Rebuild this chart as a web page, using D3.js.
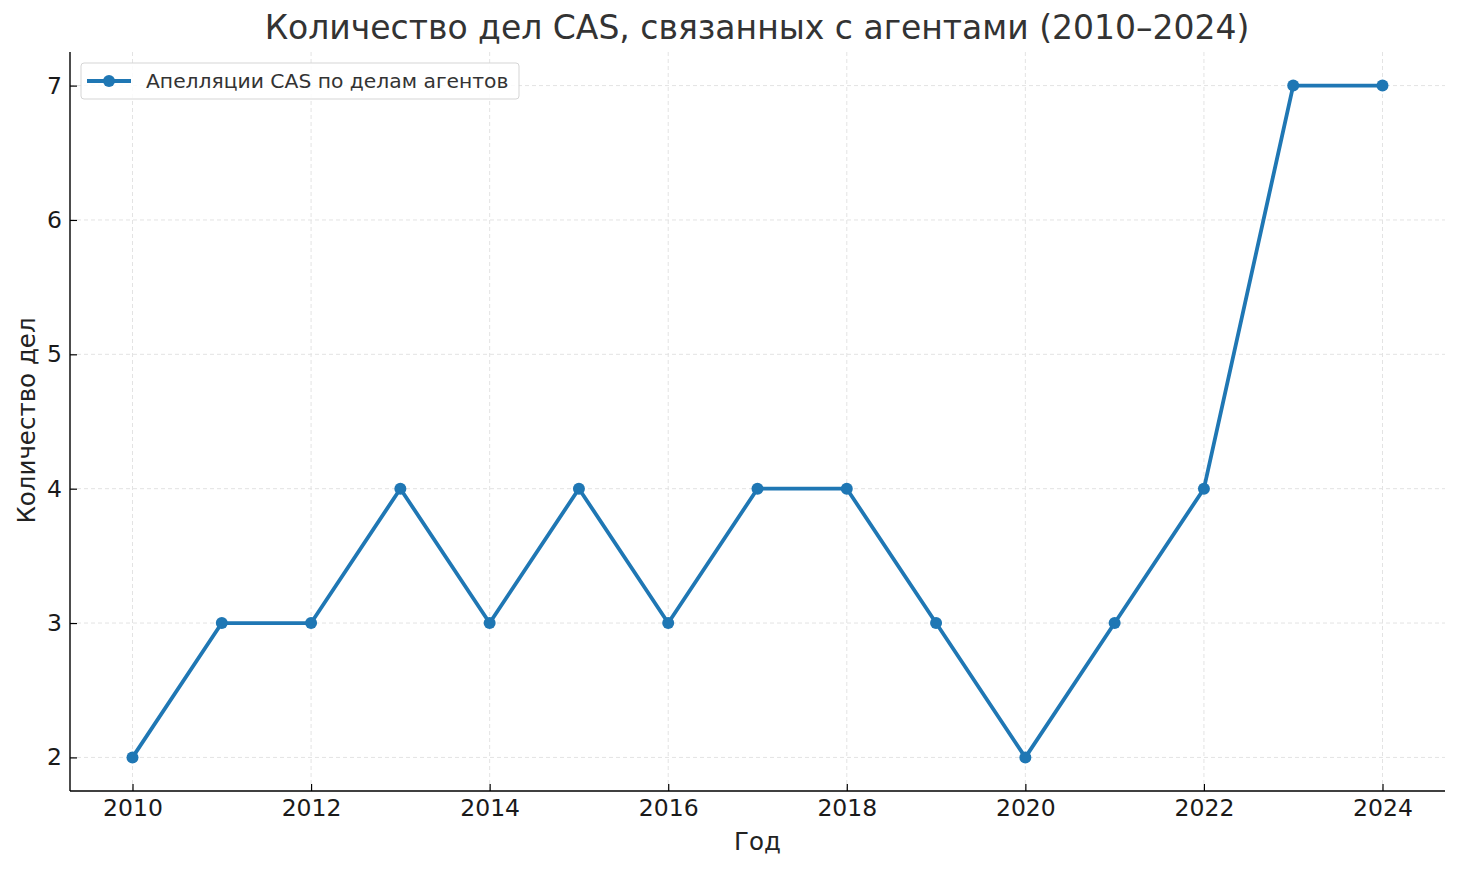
<!DOCTYPE html>
<html><head><meta charset="utf-8">
<script src="https://cdn.jsdelivr.net/npm/d3@7"></script>
<style>body{margin:0;background:#fff;} text{font-family:"DejaVu Sans",sans-serif;}</style>
</head><body>
<svg id="c" width="1460" height="870"></svg>
<script>
const years = [2010,2011,2012,2013,2014,2015,2016,2017,2018,2019,2020,2021,2022,2023,2024];
const cases = [2,3,3,4,3,4,3,4,4,3,2,3,4,7,7];
const xTicks = [2010,2012,2014,2016,2018,2020,2022,2024];
const yTicks = [2,3,4,5,6,7];
const title = "Количество дел CAS, связанных с агентами (2010–2024)";
const xLabel = "Год";
const yLabel = "Количество дел";
const seriesName = "Апелляции CAS по делам агентов";

const svg = d3.select("#c");
const L=70,R=1445,T=52,B=791;
const color="#1f77b4";
const x = d3.scaleLinear().domain([2009.3,2024.7]).range([L,R]);
const y = d3.scaleLinear().domain([1.75,7.25]).range([B,T]);

// grid
const g = svg.append("g");
g.selectAll(".gx").data(xTicks).enter().append("line")
 .attr("x1",d=>x(d)).attr("x2",d=>x(d)).attr("y1",T).attr("y2",B)
 .attr("stroke","#e3e3e3").attr("stroke-width",1).attr("stroke-dasharray","4,3");
g.selectAll(".gy").data(yTicks).enter().append("line")
 .attr("x1",L).attr("x2",R).attr("y1",d=>y(d)).attr("y2",d=>y(d))
 .attr("stroke","#e3e3e3").attr("stroke-width",1).attr("stroke-dasharray","4,3");

// axes
const xa = svg.append("g").attr("transform",`translate(0,${B})`)
 .call(d3.axisBottom(x).tickValues(xTicks).tickFormat(d3.format("d")).tickSizeInner(-7).tickSizeOuter(0).tickPadding(8));
const ya = svg.append("g").attr("transform",`translate(${L},0)`)
 .call(d3.axisLeft(y).tickValues(yTicks).tickFormat(d3.format("d")).tickSizeInner(-7).tickSizeOuter(0).tickPadding(8));
[xa,ya].forEach(a=>{
  a.select(".domain").attr("stroke","#000").attr("stroke-width",1.4);
  a.selectAll(".tick line").attr("stroke","#000").attr("stroke-width",1.2);
  a.selectAll(".tick text").attr("font-size",23.5).attr("fill","#1a1a1a").attr("font-family","DejaVu Sans");
});
xa.select(".domain").attr("d",`M${L},0H${R}`);
ya.select(".domain").attr("d",`M0,${B}V${T}`);

// line
svg.append("path").datum(years.map((d,i)=>[d,cases[i]]))
 .attr("d",d3.line().x(d=>x(d[0])).y(d=>y(d[1])))
 .attr("fill","none").attr("stroke",color).attr("stroke-width",3.8).attr("stroke-linejoin","round");
svg.selectAll(".pt").data(years).enter().append("circle")
 .attr("cx",d=>x(d)).attr("cy",(d,i)=>y(cases[i])).attr("r",6).attr("fill",color);

// title & labels
svg.append("text").attr("x",757).attr("y",39).attr("text-anchor","middle")
 .attr("font-size",33).attr("fill","#333").text(title);
svg.append("text").attr("x",757.5).attr("y",850).attr("text-anchor","middle")
 .attr("font-size",24.5).attr("fill","#222").text(xLabel);
svg.append("text").attr("transform","translate(35,420.5) rotate(-90)").attr("text-anchor","middle")
 .attr("font-size",24.5).attr("fill","#222").text(yLabel);

// legend
const lg = svg.append("g");
lg.append("rect").attr("x",81).attr("y",63).attr("width",438).attr("height",36).attr("rx",3)
 .attr("fill","#fff").attr("fill-opacity",0.85).attr("stroke","#d5d5d5").attr("stroke-width",1);
lg.append("line").attr("x1",87).attr("x2",131).attr("y1",81).attr("y2",81).attr("stroke",color).attr("stroke-width",3.8);
lg.append("circle").attr("cx",109).attr("cy",81).attr("r",6).attr("fill",color);
lg.append("text").attr("x",146).attr("y",88).attr("font-size",20.3).attr("fill","#333").text(seriesName);
</script>
</body></html>
